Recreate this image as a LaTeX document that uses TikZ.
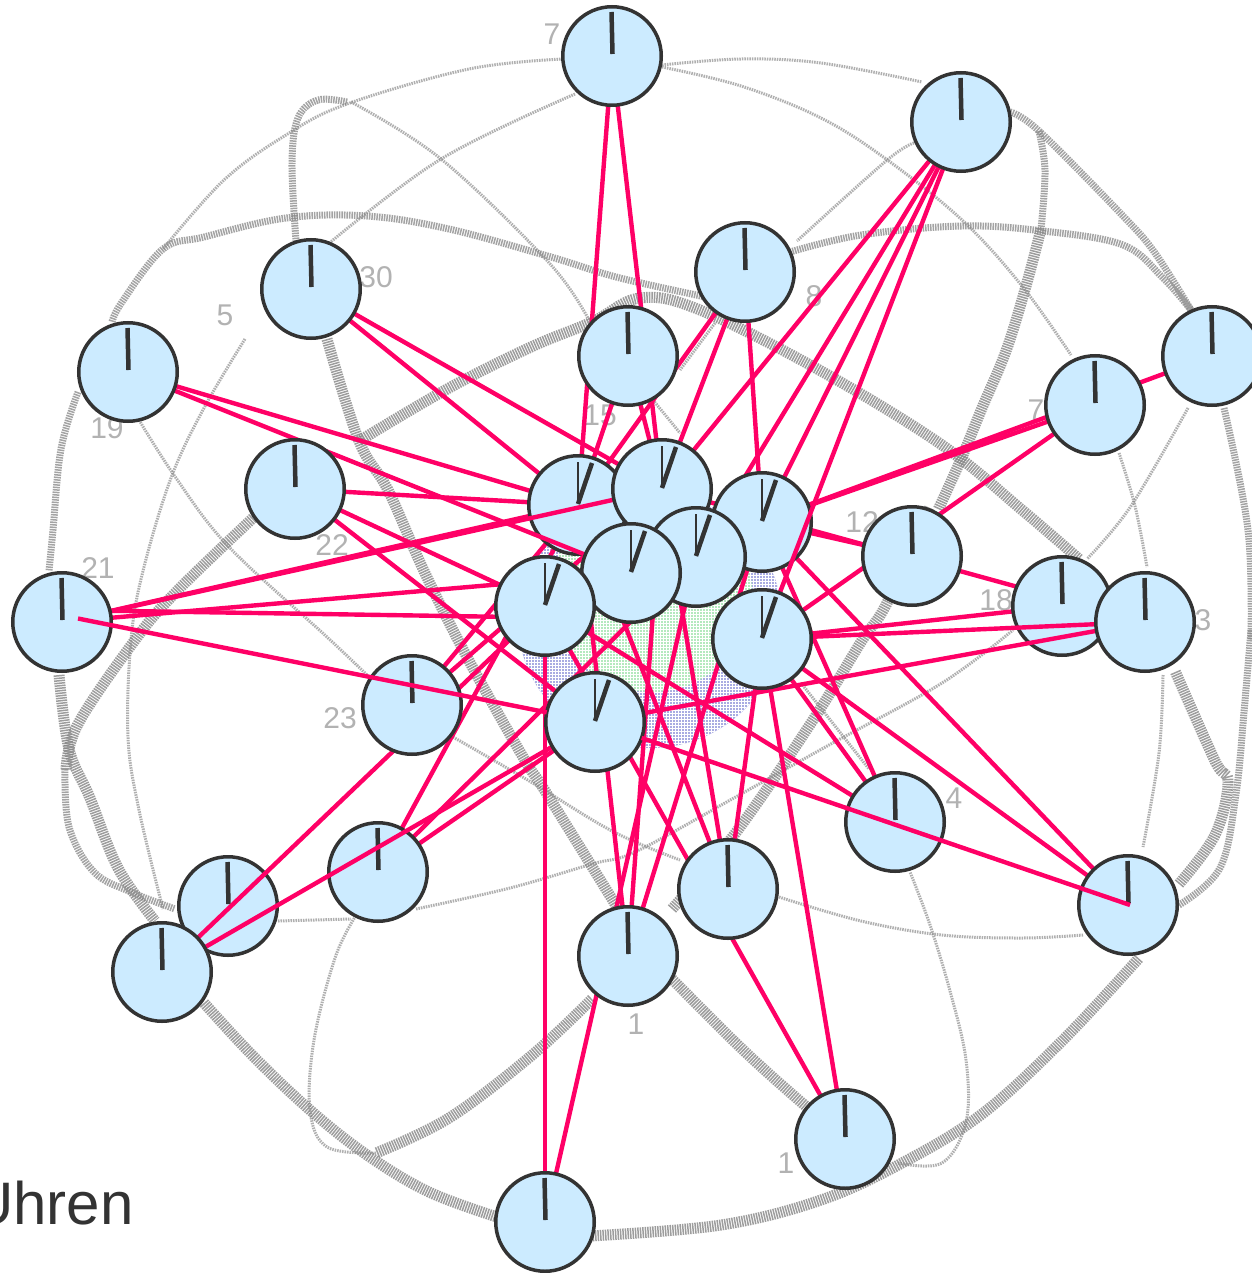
\documentclass[tikz,border=0pt]{standalone}
\usepackage{fontspec}
\setmainfont{Liberation Sans}
\pgfdeclarelayer{bglayer}
\pgfdeclarelayer{lzero}
\pgfdeclarelayer{czero}
\pgfdeclarelayer{lone}
\pgfdeclarelayer{lthree}
\pgfsetlayers{bglayer,lzero,czero,lone,main,lthree}
\definecolor{clockfill}{HTML}{CCEBFF}
\definecolor{clockink}{HTML}{333333}
\definecolor{linkpink}{HTML}{FF0066}
\definecolor{halftone}{HTML}{858585}
\definecolor{blobblue}{HTML}{A9ACE2}
\definecolor{blobgreen}{HTML}{B4E9BE}
\tikzset{
  clockface/.style={circle,draw=clockink,fill=clockfill,line width=3.5pt,minimum size=98.5pt,inner sep=0pt,outer sep=0pt},
  hourhand/.style={draw=clockink,line width=4.5pt},
  thinhand/.style={draw=clockink,line width=1.8pt},
  link/.style={draw=linkpink,line width=4.4pt},
  bgthick/.style={draw=halftone,line width=11pt,dash pattern=on 1.5pt off 1pt,opacity=.8},
  bgmid/.style={draw=halftone,line width=7pt,dash pattern=on 1.5pt off 1pt,opacity=.75},
  bgthin/.style={draw=halftone,line width=3pt,dash pattern=on 1.5pt off 1pt,opacity=.65},
  bglabel/.style={text=gray!60,font=\fontsize{30}{30}\selectfont,inner sep=0pt}
}
\newcommand{\outerclock}[3]{%
  \node[clockface] (#1) at (#2,#3) {};
  \draw[hourhand] ([shift={(-0.5,-44)}]#1.center) -- ([shift={(0.5,-2)}]#1.center);}
\newcommand{\innerclock}[3]{%
  \node[clockface] (#1) at (#2,#3) {};
  \draw[thinhand] ([shift={(0,-43)}]#1.center) -- ([shift={(0,-2)}]#1.center);
  \draw[hourhand] ([shift={(14,-42)}]#1.center) -- ([shift={(0,-1)}]#1.center);}
\begin{document}
\begin{tikzpicture}[x=1pt,y=-1pt]
\useasboundingbox (0,0) rectangle (1251,1273);
\begin{pgfonlayer}{bglayer}
  \fill[white] (0,0) rectangle (1251,1273);
  % central coloured blob
  \begin{scope}
    \clip (650,620) ellipse [x radius=132, y radius=128];
    \fill[blobblue] (510,485) rectangle (790,755);
    \fill[blobgreen] (652,592) ellipse [x radius=100, y radius=100];
    \foreach \t in {0,3,...,282} {
      \draw[white,line width=.8pt] (510+\t,485) -- (510+\t,755);
      \draw[white,line width=.8pt] (510,485+\t) -- (790,485+\t);
    }
  \end{scope}
  % thick curves
  \draw[bgthick] plot[smooth,tension=.6] coordinates {(359,441)(449,388)(531,347)(592,322)(640,298)(700,310)(821,371)(942,445)(1022,510)(1079,559)};
  \draw[bgthick] plot[smooth,tension=.6] coordinates {(327,339)(359,441)(388,490)(424,571)(467,657)(523,757)(547,794)(625,920)};
  \draw[bgthick] plot[smooth,tension=.6] coordinates {(1041,229)(1026,286)(1006,351)(982,408)(962,457)(938,510)};
  \draw[bgthick] plot[smooth,tension=.6] coordinates {(672,909)(737,831)(813,720)(861,642)(887,603)(930,507)};
  \draw[bgthick] plot[smooth,tension=.6] coordinates {(672,979)(741,1048)(801,1102)(830,1125)};
  \draw[bgthick] plot[smooth,tension=.6] coordinates {(204,1003)(253,1056)(310,1110)(367,1155)(429,1192)(500,1218)};
  \draw[bgthick] plot[smooth,tension=.6] coordinates {(590,1236)(721,1225)(821,1200)(902,1163)(982,1114)(1063,1040)(1139,958)};
  \draw[bgthick] plot[smooth,tension=.6] coordinates {(592,999)(531,1056)(449,1118)(376,1153)};
  \draw[bgthick] plot[smooth,tension=.6] coordinates {(1179,884)(1215,835)(1228,782)(1215,761)(1175,671)};
  \draw[bgthick] plot[smooth,tension=.6] coordinates {(253,518)(176,592)(135,640)(78,724)(66,770)};
  \draw[bgthick] plot[smooth,tension=.6] coordinates {(59,675)(69,749)(90,798)(118,868)(155,921)};
  % medium curves
  \draw[bgmid] plot[smooth,tension=.6] coordinates {(720,300)(620,278)(551,257)(449,229)(367,216)(286,218)(204,237)(163,249)(122,302)(112,322)};
  \draw[bgmid] plot[smooth,tension=.6] coordinates {(790,252)(861,235)(962,226)(1043,231)(1123,245)(1163,278)(1191,310)};
  \draw[bgmid] plot[smooth,tension=.6] coordinates {(347,102)(318,100)(298,118)(292,163)(296,241)};
  \draw[bgmid] plot[smooth,tension=.6] coordinates {(1010,112)(1039,131)(1123,216)(1155,253)(1191,310)};
  \draw[bgmid] plot[smooth,tension=.6] coordinates {(1039,131)(1045,171)(1041,229)};
  \draw[bgmid] plot[smooth,tension=.6] coordinates {(78,392)(61,449)(53,530)(49,571)};
  \draw[bgmid] plot[smooth,tension=.6] coordinates {(1179,905)(1220,868)(1236,794)(1244,712)(1251,630)};
  \draw[bgmid] plot[smooth,tension=.6] coordinates {(1224,408)(1248,530)(1251,640)};
  \draw[bgmid] plot[smooth,tension=.6] coordinates {(65,769)(69,827)(94,872)(131,892)(175,909)};
  % thin curves
  \draw[bgthin] plot[smooth,tension=.6] coordinates {(563,59)(469,69)(347,104)(286,135)(224,180)(163,249)};
  \draw[bgthin] plot[smooth,tension=.6] coordinates {(575,94)(441,159)(327,245)};
  \draw[bgthin] plot[smooth,tension=.6] coordinates {(351,102)(441,159)(551,265)(592,326)};
  \draw[bgthin] plot[smooth,tension=.6] coordinates {(662,65)(741,59)(821,63)(922,82)};
  \draw[bgthin] plot[smooth,tension=.6] coordinates {(662,67)(741,86)(821,118)(886,159)(962,220)(1022,286)(1071,355)};
  \draw[bgthin] plot[smooth,tension=.6] coordinates {(914,143)(886,161)(797,241)};
  \draw[bgthin] plot[smooth,tension=.6] coordinates {(139,420)(176,478)(229,547)(327,637)(367,675)};
  \draw[bgthin] plot[smooth,tension=.6] coordinates {(453,737)(531,782)(612,831)(680,860)};
  \draw[bgthin] plot[smooth,tension=.6] coordinates {(245,339)(204,408)(171,478)(143,571)(131,640)(128,737)(139,810)(163,909)};
  \draw[bgthin] plot[smooth,tension=.6] coordinates {(376,1153)(327,1147)(310,1110)(314,1040)(335,958)(355,917)};
  \draw[bgthin] (278,921) -- (351,919);
  \draw[bgthin] plot[smooth,tension=.6] coordinates {(416,909)(510,888)(592,864)(637,851)(741,794)(829,745)(942,683)(1013,630)};
  \draw[bgthin] plot[smooth,tension=.6] coordinates {(1163,675)(1159,753)(1143,847)};
  \draw[bgthin] plot[smooth,tension=.6] coordinates {(898,1163)(942,1163)(966,1122)(966,1060)(950,991)(930,925)(910,872)};
  \draw[bgthin] plot[smooth,tension=.6] coordinates {(779,897)(861,921)(942,935)(1022,938)(1083,935)};
  \draw[bgthin] plot[smooth,tension=.6] coordinates {(1188,408)(1131,506)(1087,559)};
  \draw[bgthin] plot[smooth,tension=.6] coordinates {(1119,453)(1135,506)(1147,567)};
  \draw[bgthin] (801,683) -- (869,769);
  \draw[bgthin] (653,400) -- (680,433);
  \draw[bgthin] (715,323) -- (680,370);
  % faint vertex numbers
  \node[bglabel] (n7) at (552,34) {7};
  \node[bglabel] (n30) at (376,277) {30};
  \node[bglabel] (n5) at (225,315) {5};
  \node[bglabel] (n19) at (107,428) {19};
  \node[bglabel] (n21) at (98,568) {21};
  \node[bglabel] (n22) at (332,545) {22};
  \node[bglabel] (n23) at (340,718) {23};
  \node[bglabel] (n1a) at (636,1024) {1};
  \node[bglabel] (n1b) at (786,1163) {1};
  \node[bglabel] (n14) at (954,798) {4};
  \node[bglabel] (n18) at (996,600) {18};
  \node[bglabel] (n12) at (862,522) {12};
  \node[bglabel] (n3) at (1203,620) {3};
  \node[bglabel] (n17) at (1036,410) {7};
  \node[bglabel] (n15) at (600,415) {15};
  \node[bglabel] (n8) at (814,296) {8};
\end{pgfonlayer}

% lower clocks
\begin{pgfonlayer}{czero}
  \innerclock{M1}{578}{505}
  \innerclock{M3}{762}{522}
  \outerclock{S}{228}{906}
  \outerclock{T}{378}{872}
  \outerclock{K}{1062}{606}
\end{pgfonlayer}
% upper clocks
\outerclock{A}{612}{56}
\outerclock{B}{961}{122}
\outerclock{C}{745}{272}
\outerclock{D}{311}{289}
\outerclock{E}{628}{356}
\outerclock{F}{128}{372}
\outerclock{G}{1212}{356}
\outerclock{H}{1095}{405}
\outerclock{I}{295}{489}
\outerclock{J}{912}{556}
\outerclock{L}{1145}{622}
\outerclock{N}{62}{622}
\outerclock{O}{412}{705}
\outerclock{P}{895}{822}
\outerclock{Q}{728}{889}
\outerclock{R}{1128}{905}
\outerclock{U}{162}{972}
\outerclock{V}{628}{956}
\outerclock{W}{845}{1139}
\outerclock{X}{545}{1222}
\innerclock{M2}{662}{489}
\innerclock{M4}{696}{557}
\innerclock{M5}{631}{573}
\innerclock{M6}{545}{606}
\innerclock{M7}{762}{639}
\innerclock{M8}{595}{722}

\coordinate (nstart) at (78,618.5);
\coordinate (nflat) at (62,610);
\coordinate (nflatend) at (545,617.5);
\coordinate (rstart) at (1130,905);

\begin{pgfonlayer}{lzero}
  \foreach \a/\b in {A/M1,A/M2,E/M1,E/M2,C/M1,C/M2,C/M3,B/M2,B/M4,B/M3,D/M2,D/M1,F/M1,
    I/M1,I/M6,I/M8,N/M1,N/M5,O/M1,O/M2,T/M1,T/M4,T/M8,V/M1,V/M2,V/M3,X/M4,X/M6,W/M6,W/M7,
    Q/M1,Q/M2,Q/M7,P/M6,P/M3,P/M7,R/M3,R/M7,L/M2,K/M7,H/M7,H/M3,G/M3,J/M3}
    \draw[link] (\a) -- (\b);
  \draw[link] (nflat) -- (nflatend);
\end{pgfonlayer}
\begin{pgfonlayer}{lone}
  \foreach \a/\b in {F/M5,N/M2,B/M7,U/M6,U/M8,L/M7,L/M8}
    \draw[link] (\a) -- (\b);
\end{pgfonlayer}
\begin{pgfonlayer}{lthree}
  \draw[link] (nstart) -- (M8);
  \draw[link] (rstart) -- (M8);
\end{pgfonlayer}

\node[anchor=base west,inner sep=0pt,text=clockink,font=\fontsize{60}{60}\selectfont] (title) at (-30,1224) {Uhren};
\end{tikzpicture}
\end{document}
